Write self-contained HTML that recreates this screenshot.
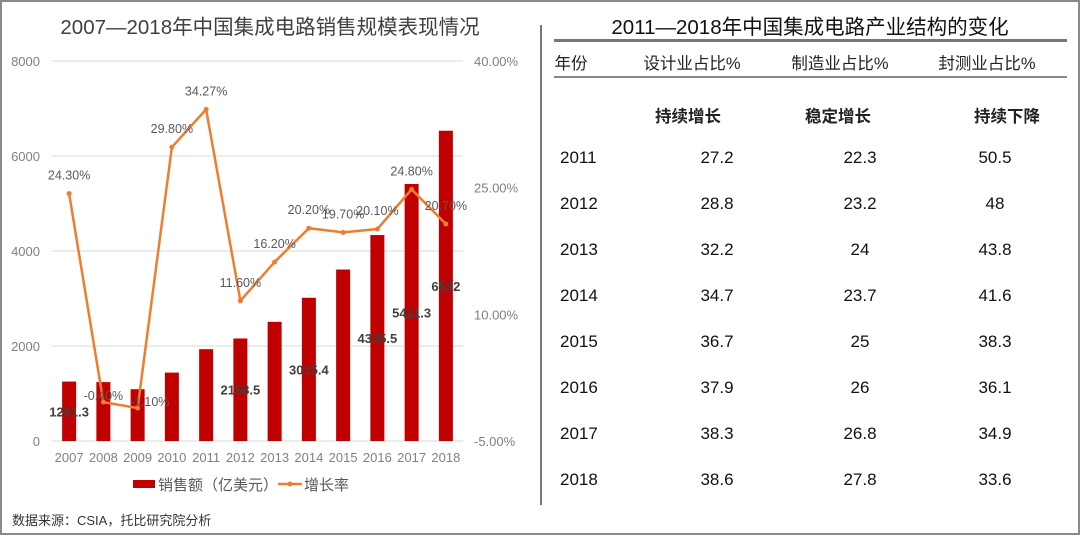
<!DOCTYPE html>
<html><head><meta charset="utf-8"><style>
body{margin:0;width:1080px;height:535px;background:#fff;font-family:"Liberation Sans","Noto Sans CJK SC",sans-serif;overflow:hidden;position:relative}
.frame{position:absolute;left:0;top:0;width:1076px;height:531px;border:2px solid #8a8a8a}
.sep{position:absolute;left:540px;top:25px;width:2px;height:480px;background:#777}
.t{position:absolute;white-space:nowrap}
</style></head><body>
<div class="frame"></div>
<div class="sep"></div>
<svg id="chart" width="540" height="510" style="position:absolute;left:0;top:0"></svg>
<div class="t" style="left:12px;top:510px;font-size:13px;color:#333">数据来源：CSIA，托比研究院分析</div>
<div id="table"></div>
<script>
const years=["2007","2008","2009","2010","2011","2012","2013","2014","2015","2016","2017","2018"];
const sales=[1251.3,1240,1090,1440,1933,2158.5,2508.5,3015.4,3609.8,4335.5,5411.3,6532];
const salesLabels=["1251.3","","","","","2158.5","","3015.4","","4335.5","5411.3","6532"];
const growth=[24.3,-0.4,-1.1,29.8,34.27,11.6,16.2,20.2,19.7,20.1,24.8,20.7];
const growthLabels=["24.30%","-0.40%","-1.10%","29.80%","34.27%","11.60%","16.20%","20.20%","19.70%","20.10%","24.80%","20.70%"];
const leftTicks=[0,2000,4000,6000,8000];
const rightTicks=[-5,10,25,40];
const NS="http://www.w3.org/2000/svg";
const svg=document.getElementById('chart');
function mk(tag,attrs,txt){const e=document.createElementNS(NS,tag);for(const k in attrs)e.setAttribute(k,attrs[k]);if(txt!==undefined)e.textContent=txt;svg.appendChild(e);return e;}
const x0=52,x1=463,yB=441,yT=61;
const step=(x1-x0)/years.length;
const xc=i=>x0+step*(i+0.5);
const yL=v=>yB-(v/8000)*(yB-yT);
const yR=v=>yB-((v+5)/45)*(yB-yT);
let e=mk('text',{x:270,y:34,'text-anchor':'middle','font-size':20.5,fill:'#404040'},'2007—2018年中国集成电路销售规模表现情况');


leftTicks.forEach(v=>{
 let g=mk('line',{x1:x0,x2:x1,y1:yL(v),y2:yL(v),stroke:'#d9d9d9','stroke-width':1});
 
 
 let t=mk('text',{x:40,y:yL(v)+5,'text-anchor':'end','font-size':13,fill:'#808080'},String(v));
 
 
});
rightTicks.forEach(v=>{
 let t=mk('text',{x:474,y:yR(v)+5,'font-size':13,fill:'#808080'},v.toFixed(2)+'%');
 
 
});
years.forEach((y,i)=>{
 let r=mk('rect',{x:xc(i)-7,y:yL(sales[i]),width:14,height:yB-yL(sales[i]),fill:'#c00000'});
 
 
 let t=mk('text',{x:xc(i),y:462,'text-anchor':'middle','font-size':13,fill:'#808080'},y);
 
 
});
let pts=growth.map((g,i)=>xc(i)+','+yR(g)).join(' ');
let pl=mk('polyline',{points:pts,fill:'none',stroke:'#ed7d31','stroke-width':2.5});


growth.forEach((g,i)=>{
 let c=mk('circle',{cx:xc(i),cy:yR(g),r:2.5,fill:'#ed7d31'});
 
 
 let dy=(i===1||i===2)?-2:-14;
 let dx=(i===2)?12:0;
 let t=mk('text',{x:xc(i)+dx,y:yR(g)+dy,'text-anchor':'middle','font-size':12.5,fill:'#595959'},growthLabels[i]);
 
 
});
salesLabels.forEach((s,i)=>{
 if(!s)return;
 let yy=(yL(sales[i])+yB)/2+5;
 let t=mk('text',{x:xc(i),y:yy,'text-anchor':'middle','font-size':13,'font-weight':'bold',fill:'#404040'},s);
 
 
});
let lr=mk('rect',{x:133,y:480,width:22,height:8,fill:'#c00000'});


let lt=mk('text',{x:158,y:490,'font-size':15,fill:'#595959'},'销售额（亿美元）');


let ll=mk('line',{x1:278,x2:302,y1:484,y2:484,stroke:'#ed7d31','stroke-width':2.5});


mk('circle',{cx:290,cy:484,r:2.5,fill:'#ed7d31'});
let lt2=mk('text',{x:304,y:490,'font-size':15,fill:'#595959'},'增长率');



// table
const tRows=[["2011","27.2","22.3","50.5"],["2012","28.8","23.2","48"],["2013","32.2","24","43.8"],["2014","34.7","23.7","41.6"],["2015","36.7","25","38.3"],["2016","37.9","26","36.1"],["2017","38.3","26.8","34.9"],["2018","38.6","27.8","33.6"]];
const tb=document.getElementById('table');
let h='<div class="t" style="left:555px;width:510px;text-align:center;top:10px;font-size:20.5px;color:#111">2011—2018年中国集成电路产业结构的变化</div>';
h+='<div style="position:absolute;left:554px;top:39px;width:513px;height:3px;background:#777"></div>';
h+='<div style="position:absolute;left:554px;top:76px;width:513px;height:2px;background:#888"></div>';
const hdr=[["年份",571],["设计业占比%",692],["制造业占比%",840],["封测业占比%",987]];
hdr.forEach(([s,c])=>{h+=`<div class="t" style="left:${c-70}px;width:140px;text-align:center;top:50px;font-size:16.5px;color:#222">${s}</div>`;});
[["持续增长",688],["稳定增长",838],["持续下降",1007]].forEach(([s,c])=>{h+=`<div class="t" style="left:${c-60}px;width:120px;text-align:center;top:103px;font-size:16.5px;font-weight:bold;color:#222">${s}</div>`;});
const cols=[560,717,860,995];
tRows.forEach((r,i)=>{const top=148+46*i;r.forEach((v,j)=>{const st=j===0?`left:${cols[0]}px`:`left:${cols[j]-50}px;width:100px;text-align:center`;h+=`<div class="t" style="${st};top:${top}px;font-size:17px;color:#111">${v}</div>`;});});
tb.innerHTML=h;
</script>
</body></html>
